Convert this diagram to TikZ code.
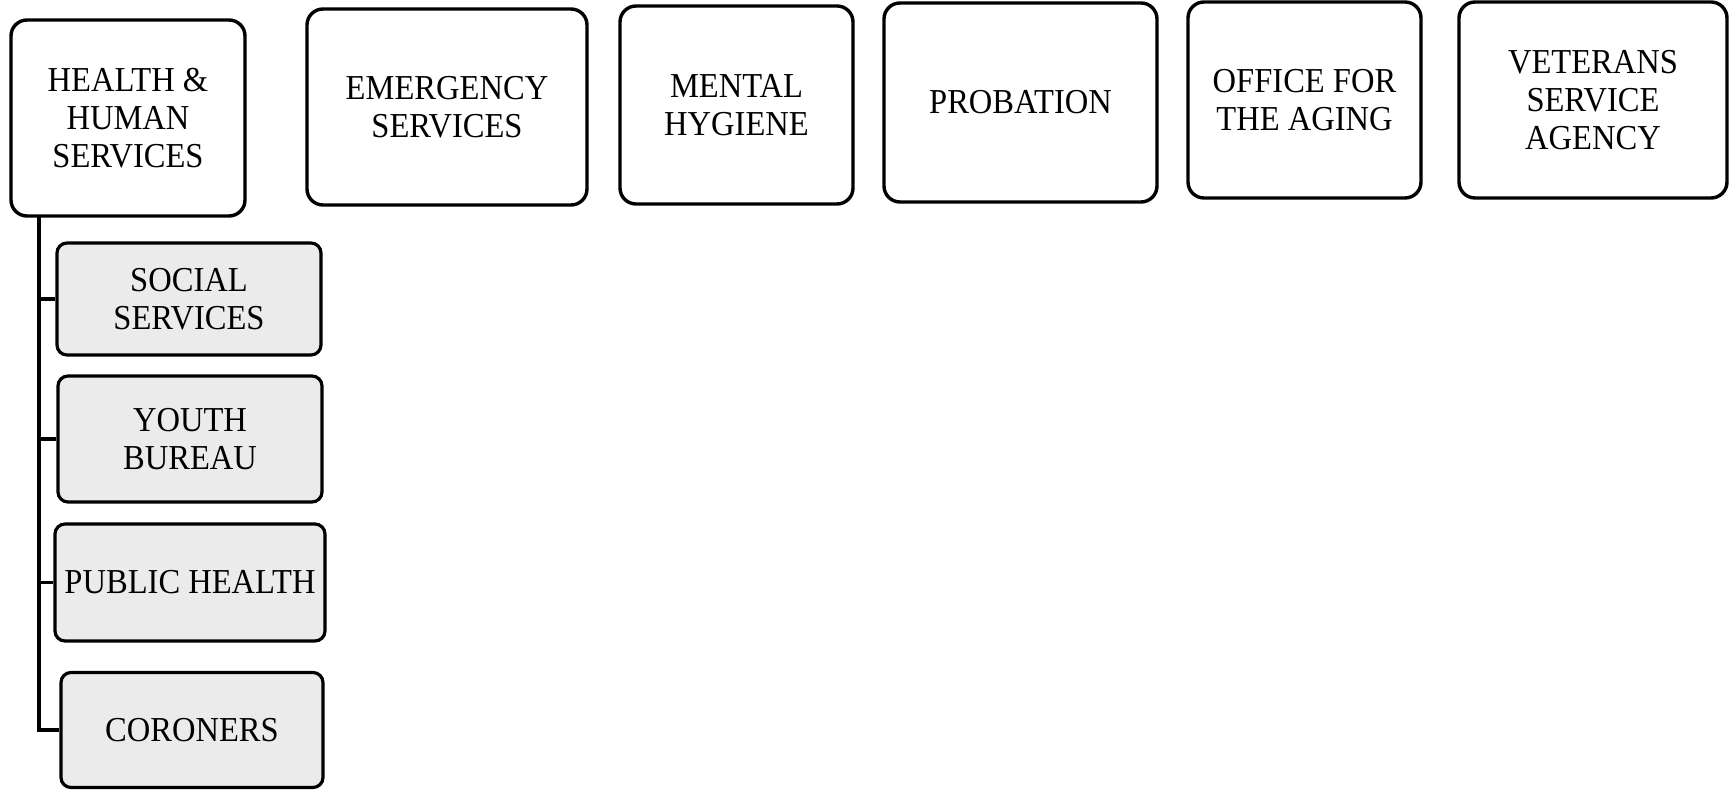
\documentclass[tikz,border=0pt]{standalone}
\usepackage{fontspec}
\setmainfont{Liberation Serif}[FakeStretch=0.93]
\begin{document}
\begin{tikzpicture}[x=0.5pt,y=-0.5pt,
  topbox/.style={draw=black, line width=1.7pt, rounded corners=8pt, fill=white,
    inner sep=0pt, align=center, font=\fontsize{17.5}{19}\selectfont},
  subbox/.style={draw=black, line width=1.6pt, rounded corners=5pt, fill=black!8,
    inner sep=0pt, align=center, font=\fontsize{17.5}{19}\selectfont},
  conn/.style={draw=black, line width=1.7pt}]
\useasboundingbox (0,0) rectangle (1729,790);
\fill[white] (0,0) rectangle (1729,790);
% top row
\node[topbox, minimum width=117pt, minimum height=98pt] (hhs) at (128,118) {HEALTH \&\\HUMAN\\SERVICES};
\node[topbox, minimum width=140pt, minimum height=98pt] (emerg) at (447,107) {EMERGENCY\\SERVICES};
\node[topbox, minimum width=116.5pt, minimum height=99pt] (mental) at (736.5,105) {MENTAL\\HYGIENE};
\node[topbox, minimum width=136.5pt, minimum height=99.5pt] (prob) at (1020.5,102.5) {PROBATION};
\node[topbox, minimum width=116.5pt, minimum height=98pt] (aging) at (1304.5,100) {OFFICE FOR\\THE AGING};
\node[topbox, minimum width=134pt, minimum height=98pt] (vet) at (1593,100) {VETERANS\\SERVICE\\AGENCY};
% sub boxes
\node[subbox, minimum width=132pt, minimum height=56pt] (soc) at (189,299) {SOCIAL\\SERVICES};
\node[subbox, minimum width=132pt, minimum height=63pt] (youth) at (190,439) {YOUTH\\BUREAU};
\node[subbox, minimum width=135pt, minimum height=58.5pt] (pub) at (190,582.5) {PUBLIC HEALTH};
\node[subbox, minimum width=131pt, minimum height=57.5pt] (cor) at (192,730) {CORONERS};
% connectors
\coordinate (trunk) at (39,216);
\draw[conn] (trunk) |- (cor.west);
\draw[conn] (trunk |- soc.west) -- (soc.west);
\draw[conn] (trunk |- youth.west) -- (youth.west);
\draw[conn] (trunk |- pub.west) -- (pub.west);
\end{tikzpicture}
\end{document}
